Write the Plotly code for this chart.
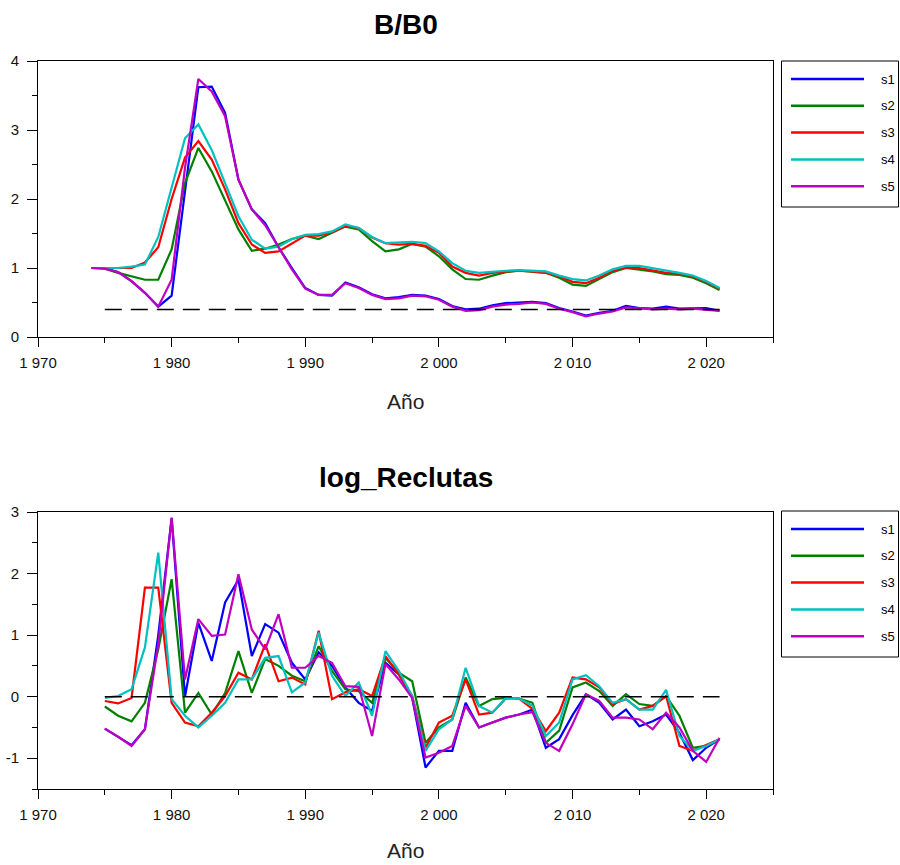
import plotly.graph_objects as go

# ---------------- data ----------------
years_bb0 = list(range(1974, 2022))
years_rec = list(range(1975, 2022))

series_names = ["s1", "s2", "s3", "s4", "s5"]
series_colors = ["#0000FF", "#008000", "#FF0000", "#00C0C0", "#C000C0"]

bb0_s1 = [1.00, 1.00, 0.94, 0.81, 0.64, 0.44, 0.60, 2.10, 3.62, 3.63, 3.25, 2.28, 1.85, 1.65, 1.30, 1.00,
          0.71, 0.61, 0.60, 0.79, 0.72, 0.62, 0.56, 0.58, 0.61, 0.60, 0.55, 0.45, 0.40, 0.41, 0.46, 0.49,
          0.50, 0.51, 0.49, 0.42, 0.37, 0.31, 0.35, 0.38, 0.45, 0.42, 0.41, 0.44, 0.41, 0.42, 0.42, 0.38]
bb0_s2 = [1.00, 0.99, 0.93, 0.88, 0.83, 0.83, 1.27, 2.23, 2.74, 2.40, 1.99, 1.56, 1.25, 1.28, 1.34, 1.42,
          1.47, 1.42, 1.51, 1.60, 1.56, 1.39, 1.24, 1.27, 1.35, 1.31, 1.17, 0.98, 0.84, 0.83, 0.89, 0.94,
          0.96, 0.95, 0.93, 0.86, 0.76, 0.74, 0.84, 0.94, 1.00, 0.98, 0.95, 0.91, 0.90, 0.86, 0.78, 0.68]
bb0_s3 = [1.00, 1.00, 0.99, 1.00, 1.08, 1.30, 2.00, 2.60, 2.84, 2.57, 2.14, 1.65, 1.34, 1.22, 1.24, 1.36,
          1.47, 1.47, 1.52, 1.61, 1.58, 1.44, 1.36, 1.34, 1.35, 1.32, 1.22, 1.02, 0.93, 0.89, 0.93, 0.95,
          0.96, 0.95, 0.93, 0.88, 0.80, 0.78, 0.86, 0.96, 1.01, 1.00, 0.97, 0.93, 0.92, 0.88, 0.80, 0.70]
bb0_s4 = [1.00, 1.00, 1.00, 1.02, 1.05, 1.45, 2.15, 2.88, 3.08, 2.71, 2.23, 1.75, 1.41, 1.28, 1.31, 1.42,
          1.48, 1.49, 1.53, 1.63, 1.58, 1.45, 1.36, 1.37, 1.38, 1.36, 1.24, 1.07, 0.96, 0.93, 0.95, 0.96,
          0.97, 0.96, 0.95, 0.89, 0.84, 0.82, 0.89, 0.98, 1.03, 1.03, 1.00, 0.96, 0.93, 0.89, 0.81, 0.71]
bb0_s5 = [1.00, 0.99, 0.94, 0.81, 0.64, 0.44, 0.83, 2.45, 3.74, 3.56, 3.20, 2.28, 1.85, 1.62, 1.30, 0.98,
          0.70, 0.61, 0.61, 0.78, 0.71, 0.61, 0.55, 0.56, 0.60, 0.59, 0.54, 0.44, 0.38, 0.39, 0.44, 0.47,
          0.48, 0.50, 0.48, 0.41, 0.36, 0.30, 0.34, 0.37, 0.43, 0.42, 0.40, 0.41, 0.40, 0.41, 0.40, 0.38]

rec_s1 = [-0.52, -0.65, -0.79, -0.53, 1.00, 2.90, 0.00, 1.20, 0.58, 1.53, 1.90, 0.66, 1.18, 1.04, 0.55,
          0.28, 0.72, 0.50, 0.15, -0.10, -0.23, 0.55, 0.36, -0.02, -1.15, -0.88, -0.88, -0.10, -0.50,
          -0.42, -0.34, -0.29, -0.21, -0.83, -0.69, -0.30, 0.04, -0.10, -0.37, -0.21, -0.48, -0.40,
          -0.29, -0.59, -1.03, -0.83, -0.69]
rec_s2 = [-0.16, -0.31, -0.40, -0.10, 0.77, 1.91, -0.26, 0.06, -0.29, 0.06, 0.74, 0.06, 0.61, 0.50, 0.34,
          0.25, 0.82, 0.42, 0.12, 0.09, -0.10, 0.63, 0.39, 0.25, -0.75, -0.50, -0.37, 0.31, -0.15,
          -0.04, -0.02, -0.03, -0.10, -0.75, -0.55, 0.15, 0.23, 0.09, -0.15, 0.04, -0.12, -0.15,
          0.01, -0.31, -0.83, -0.80, -0.69]
rec_s3 = [-0.07, -0.11, -0.02, 1.77, 1.77, -0.10, -0.42, -0.48, -0.26, 0.01, 0.39, 0.28, 0.85, 0.25, 0.31,
          0.20, 1.07, -0.04, 0.07, 0.12, 0.01, 0.66, 0.36, 0.01, -0.83, -0.42, -0.31, 0.28, -0.29,
          -0.26, -0.03, -0.03, -0.20, -0.56, -0.26, 0.31, 0.28, 0.15, -0.12, -0.04, -0.21, -0.15,
          0.01, -0.80, -0.88, -0.78, -0.69]
rec_s4 = [-0.02, 0.01, 0.12, 0.80, 2.34, -0.04, -0.31, -0.50, -0.31, -0.10, 0.28, 0.28, 0.63, 0.66, 0.07,
          0.23, 1.04, 0.34, 0.01, 0.23, -0.31, 0.74, 0.42, 0.01, -0.88, -0.53, -0.37, 0.47, -0.15,
          -0.26, -0.02, -0.03, -0.15, -0.64, -0.42, 0.28, 0.35, 0.17, -0.10, -0.04, -0.21, -0.21,
          0.11, -0.64, -0.88, -0.80, -0.69]
rec_s5 = [-0.52, -0.65, -0.80, -0.53, 0.85, 2.91, 0.28, 1.26, 0.99, 1.01, 1.99, 1.09, 0.77, 1.34, 0.47,
          0.47, 0.66, 0.55, 0.17, 0.16, -0.64, 0.53, 0.28, -0.02, -0.99, -0.91, -0.80, -0.15, -0.50,
          -0.42, -0.34, -0.29, -0.25, -0.75, -0.88, -0.45, 0.04, -0.07, -0.34, -0.34, -0.37, -0.53,
          -0.26, -0.50, -0.88, -1.06, -0.67]

bb0_ref_years = [1975, 2021]
bb0_ref = [0.4, 0.4]
rec_ref_years = [1975, 2021]
rec_ref = [0.0, 0.0]

x_tick_vals = [1970, 1980, 1990, 2000, 2010, 2020]
x_tick_text = ["1 970", "1 980", "1 990", "2 000", "2 010", "2 020"]
x_minor_vals = [1975, 1985, 1995, 2005, 2015, 2025]
bb0_tick_vals = [0, 1, 2, 3, 4]
bb0_tick_text = ["0", "1", "2", "3", "4"]
rec_tick_vals = [-1, 0, 1, 2, 3]
rec_tick_text = ["-1", "0", "1", "2", "3"]

bb0_title = "B/B0"
rec_title = "log_Reclutas"
x_title = "Año"

# ---------------- figure ----------------
W, H = 900, 865
L, R, T, B = 38, 127, 61, 76
PW = W - L - R
PH = H - T - B


def px_x(x):
    return (x - L) / PW


def px_y(y):
    return (H - B - y) / PH


top_dom = [px_y(337), 1.0]
bot_dom = [0.0, px_y(512)]

fig = go.Figure()

bb0_all = [bb0_s1, bb0_s2, bb0_s3, bb0_s4, bb0_s5]
rec_all = [rec_s1, rec_s2, rec_s3, rec_s4, rec_s5]

for name, col, ys in zip(series_names, series_colors, bb0_all):
    fig.add_trace(go.Scatter(x=years_bb0, y=ys, mode="lines", name=name,
                             line=dict(color=col, width=2.2), showlegend=False,
                             xaxis="x", yaxis="y"))
fig.add_trace(go.Scatter(x=bb0_ref_years, y=bb0_ref, mode="lines",
                         line=dict(color="black", width=1.5, dash="17px,9px"),
                         showlegend=False, xaxis="x", yaxis="y"))

for name, col, ys in zip(series_names, series_colors, rec_all):
    fig.add_trace(go.Scatter(x=years_rec, y=ys, mode="lines", name=name,
                             line=dict(color=col, width=2.2), showlegend=False,
                             xaxis="x2", yaxis="y2"))
fig.add_trace(go.Scatter(x=rec_ref_years, y=rec_ref, mode="lines",
                         line=dict(color="black", width=1.5, dash="17px,9px"),
                         showlegend=False, xaxis="x2", yaxis="y2"))

xtickfont = dict(family="Liberation Sans, Arial, sans-serif", size=15, color="#111")
ytickfont = dict(family="Liberation Sans, Arial, sans-serif", size=15, color="#111")

xcommon = dict(range=[1970, 2025], showline=True, linecolor="black", linewidth=1,
               mirror=True, ticks="outside", ticklen=9, tickcolor="black", tickwidth=1,
               tickmode="array", tickvals=x_tick_vals, ticktext=x_tick_text,
               minor=dict(tickmode="array", tickvals=x_minor_vals, ticks="outside",
                          ticklen=5, tickcolor="black", tickwidth=1, showgrid=False),
               showgrid=False, zeroline=False, tickfont=xtickfont, ticklabelstandoff=3,
               automargin=False)

ycommon = dict(showline=True, linecolor="black", linewidth=1, mirror=True,
               ticks="outside", ticklen=10, tickcolor="black", tickwidth=1,
               showgrid=False, zeroline=False, tickfont=ytickfont, ticklabelstandoff=5,
               automargin=False, tickmode="array")

fig.update_layout(
    template="none",
    width=W, height=H,
    margin=dict(l=L, r=R, t=T, b=B, autoexpand=False),
    paper_bgcolor="white", plot_bgcolor="white",
    showlegend=False,
    xaxis=dict(domain=[0, 1], anchor="y", **xcommon),
    yaxis=dict(domain=top_dom, anchor="x", range=[0, 4],
               tickvals=bb0_tick_vals, ticktext=bb0_tick_text,
               minor=dict(dtick=0.5, ticks="outside", ticklen=5, tickcolor="black",
                          showgrid=False),
               **ycommon),
    xaxis2=dict(domain=[0, 1], anchor="y2", **xcommon),
    yaxis2=dict(domain=bot_dom, anchor="x2", range=[-1.5, 3],
                tickvals=rec_tick_vals, ticktext=rec_tick_text,
                minor=dict(tick0=-1.5, dtick=0.5, ticks="outside", ticklen=5,
                           tickcolor="black", showgrid=False),
                **ycommon),
)

annotations = []
shapes = []
title_font = dict(family="Liberation Sans, Arial, sans-serif", size=28, color="black")
xt_font = dict(family="Liberation Sans Narrow, Liberation Sans, Arial, sans-serif", size=21, color="#222")

annotations.append(dict(text="<b>" + bb0_title + "</b>", x=0.5, y=px_y(25), xref="paper", yref="paper",
                        showarrow=False, xanchor="center", yanchor="middle", font=title_font))
annotations.append(dict(text="<b>" + rec_title + "</b>", x=0.5, y=px_y(477), xref="paper", yref="paper",
                        showarrow=False, xanchor="center", yanchor="middle", font=title_font))
annotations.append(dict(text=x_title, x=0.5, y=px_y(401), xref="paper", yref="paper",
                        showarrow=False, xanchor="center", yanchor="middle", font=xt_font))
annotations.append(dict(text=x_title, x=0.5, y=px_y(851), xref="paper", yref="paper",
                        showarrow=False, xanchor="center", yanchor="middle", font=xt_font))

# manual legends (one per panel)
leg_font = dict(family="Liberation Sans, Arial, sans-serif", size=13, color="black")
for top in (61, 511):
    shapes.append(dict(type="rect", xref="paper", yref="paper",
                       x0=px_x(781.5), x1=px_x(898.5), y0=px_y(top), y1=px_y(top + 146),
                       line=dict(color="black", width=1), fillcolor="white"))
    for i, (name, col) in enumerate(zip(series_names, series_colors)):
        yy = top + 18 + i * 26.8
        shapes.append(dict(type="line", xref="paper", yref="paper",
                           x0=px_x(791), x1=px_x(864), y0=px_y(yy), y1=px_y(yy),
                           line=dict(color=col, width=2.5)))
        annotations.append(dict(text=name, x=px_x(879), y=px_y(yy), xref="paper", yref="paper",
                                showarrow=False, xanchor="left", yanchor="middle", font=leg_font))

fig.update_layout(annotations=annotations, shapes=shapes)

fig.write_html("out.html",
               config={"displayModeBar": False},
               post_script="document.body.style.margin='0';document.body.style.padding='0';"
                           "document.body.style.overflow='hidden';")
